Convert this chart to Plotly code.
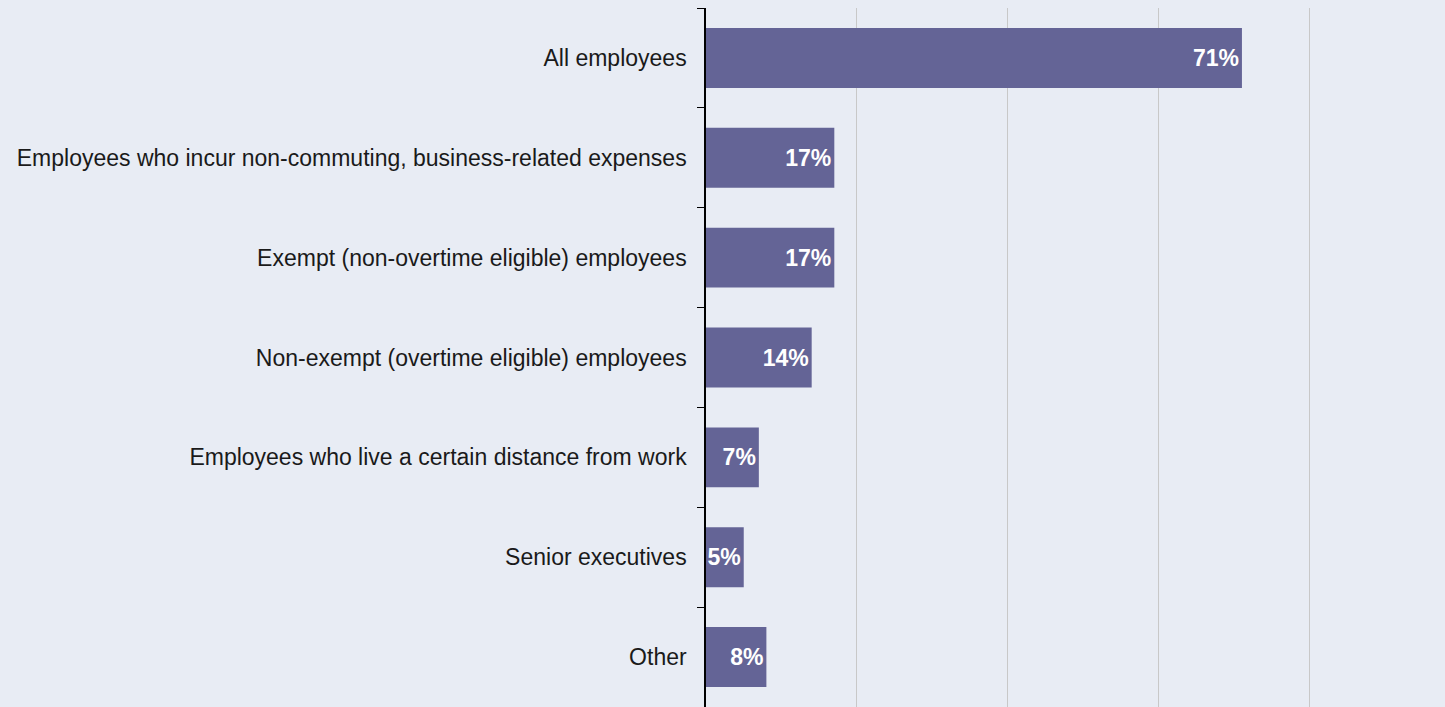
import plotly.graph_objects as go

categories = [
    "All employees",
    "Employees who incur non-commuting, business-related expenses",
    "Exempt (non-overtime eligible) employees",
    "Non-exempt (overtime eligible) employees",
    "Employees who live a certain distance from work",
    "Senior executives",
    "Other",
]
values = [71, 17, 17, 14, 7, 5, 8]
labels = [f"{v}%" for v in values]

BG = "#E8ECF4"
BAR = "#646496"
FONT = "Liberation Sans, Arial, sans-serif"

fig = go.Figure(go.Bar(
    x=values,
    y=categories,
    orientation="h",
    marker=dict(color=BAR, line=dict(width=0)),
    width=0.6,
    text=labels,
    textposition="inside",
    insidetextanchor="end",
    textangle=0,
    constraintext="none",
    cliponaxis=False,
    textfont=dict(family=FONT, size=23, color="white", weight="bold"),
    hoverinfo="skip",
))

fig.update_layout(
    width=1445,
    height=707,
    margin=dict(l=706, r=0, t=8, b=0),
    paper_bgcolor=BG,
    plot_bgcolor=BG,
    showlegend=False,
    bargap=0.4,
    font=dict(family=FONT, size=23, color="#1a1a1a"),
)

fig.update_xaxes(
    range=[0, 97.9],
    dtick=20,
    showticklabels=False,
    showgrid=True,
    gridcolor="#C8C8C8",
    gridwidth=1,
    zeroline=False,
    showline=False,
)

fig.update_yaxes(
    autorange="reversed",
    showline=True,
    linecolor="black",
    linewidth=1.5,
    ticks="outside",
    tickson="boundaries",
    ticklen=7,
    tickcolor="black",
    tickwidth=1,
    ticklabelstandoff=13,
    showgrid=False,
    tickfont=dict(family=FONT, size=23, color="#1a1a1a"),
)

fig.write_html(
    "out.html",
    config={"displayModeBar": False},
    post_script="document.body.style.margin='0';document.body.style.background='%s';" % BG,
)
